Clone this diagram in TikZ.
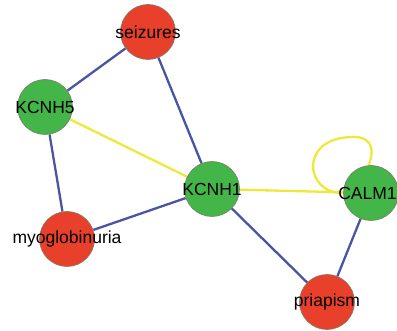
\documentclass[tikz,border=0pt]{standalone}
\usepackage{fontspec}
\setmainfont{Liberation Sans}
\usetikzlibrary{backgrounds}
\definecolor{edgeblue}{HTML}{4A55A2}
\definecolor{edgeyellow}{HTML}{EEE83A}
\definecolor{genegreen}{HTML}{44B549}
\definecolor{disred}{HTML}{E8402A}
\definecolor{rimgray}{HTML}{7A7A6A}
\tikzset{
  vtx/.style={circle, minimum size=55pt, inner sep=0pt, draw=rimgray, line width=0.6pt},
  gene/.style={vtx, fill=genegreen},
  disease/.style={vtx, fill=disred},
  lbl/.style={font=\fontsize{17.5}{19}\selectfont, text=black},
  blueedge/.style={draw=edgeblue, line width=2.3pt},
  yellowedge/.style={draw=edgeyellow, line width=2.3pt},
}
\begin{document}
\begin{tikzpicture}[x=1pt, y=-1pt]
\useasboundingbox (0,0) rectangle (397,331);
\node[disease, label={[lbl]center:seizures}] (seiz) at (148,32) {};
\node[gene, label={[lbl]center:KCNH5}] (kcnh5) at (45,107) {};
\node[gene, label={[lbl]center:KCNH1}] (kcnh1) at (212,189) {};
\node[gene, label={[lbl, xshift=-3.5pt]center:CALM1}] (calm1) at (371,193) {};
\node[disease, label={[lbl]center:myoglobinuria}] (myo) at (67,239) {};
\node[disease, label={[lbl]center:priapism}] (pria) at (327,302) {};
\begin{pgfonlayer}{background}
\draw[blueedge] (seiz) -- (kcnh5);
\draw[blueedge] (seiz) -- (kcnh1);
\draw[blueedge] (kcnh5) -- (myo);
\draw[blueedge] (myo) -- (kcnh1);
\draw[blueedge] (kcnh1) -- (pria);
\draw[blueedge] (calm1) -- (pria);
\draw[yellowedge] (kcnh5) -- (kcnh1);
\draw[yellowedge] (kcnh1) -- (calm1);
\draw[yellowedge] (calm1.180) .. controls (305,194) and (298,138) .. (352,137)
  .. controls (376,136) and (373,155) .. (calm1.95);
\end{pgfonlayer}
\end{tikzpicture}
\end{document}
